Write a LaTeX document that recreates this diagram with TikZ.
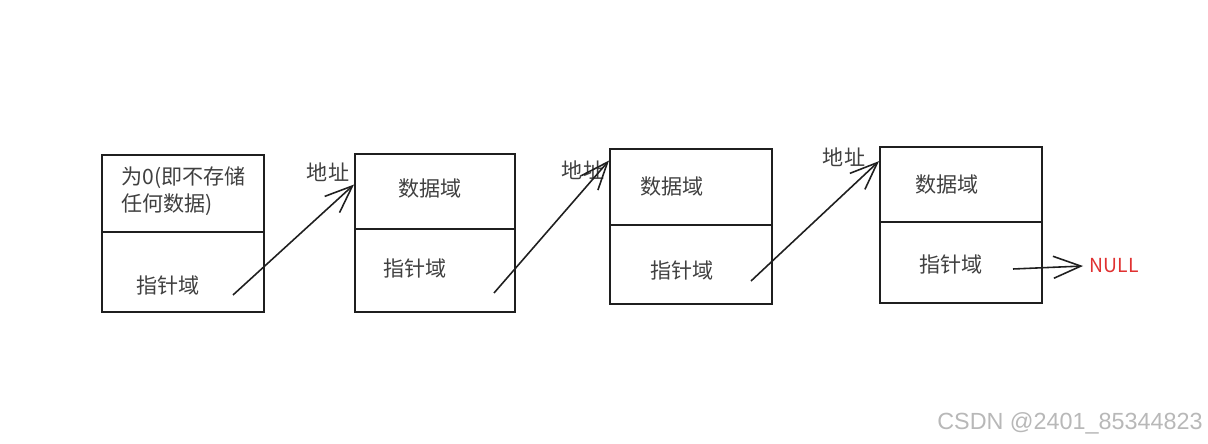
\documentclass[tikz,border=0pt]{standalone}
\usepackage{fontspec}
\setmainfont{Noto Sans CJK SC}
\newfontfamily\wmfont{Liberation Sans}
\usetikzlibrary{arrows.meta}
\definecolor{inkred}{RGB}{224,49,49}

\begin{document}
\begin{tikzpicture}[line width=0.9pt,>={Straight Barb[length=5.5mm,width=4.4mm]},
  cell/.style={draw=black!88, line width=1pt, inner sep=0pt, minimum width=3.24cm, anchor=south west},
  lbl/.style={text=black!75, font=\fontsize{12}{14}\selectfont, inner sep=1pt},
  ptr/.style={->, draw=black!88}]
\useasboundingbox (0,0) rectangle (24.16,8.86);
% ---------- head node ----------
\node[cell, minimum height=1.60cm] (b1) at (2.02,2.60) {};
\node[cell, minimum height=1.54cm] (t1) at (2.02,4.20) {};
\node[lbl, anchor=west] (h1a) at (2.38,5.30) {为0(即不存储};
\node[lbl, anchor=west] (h1b) at (2.38,4.76) {任何数据)};
\node[lbl] (p1) at (3.36,3.16) {指针域};
\coordinate (s1) at (4.66,2.96);
% ---------- node 2 ----------
\node[cell, minimum width=3.20cm, minimum height=1.66cm] (b2) at (7.08,2.60) {};
\node[cell, minimum width=3.20cm, minimum height=1.50cm] (t2) at (7.08,4.26) {};
\node[lbl] (d2) at (8.60,5.08) {数据域};
\node[lbl] (p2) at (8.30,3.50) {指针域};
\node[lbl] (a2) at (6.56,5.42) {地址};
\coordinate (s2) at (9.88,3.00);
% ---------- node 3 ----------
\node[cell, minimum height=1.58cm] (b3) at (12.18,2.76) {};
\node[cell, minimum height=1.52cm] (t3) at (12.18,4.34) {};
\node[lbl] (d3) at (13.44,5.12) {数据域};
\node[lbl] (p3) at (13.64,3.46) {指针域};
\node[lbl] (a3) at (11.66,5.46) {地址};
\coordinate (s3) at (15.02,3.24);
% ---------- node 4 ----------
\node[cell, minimum height=1.62cm] (b4) at (17.58,2.78) {};
\node[cell, minimum height=1.50cm] (t4) at (17.58,4.40) {};
\node[lbl] (d4) at (18.94,5.16) {数据域};
\node[lbl] (p4) at (19.02,3.58) {指针域};
\node[lbl] (a4) at (16.88,5.72) {地址};
\coordinate (s4) at (20.26,3.48);
\node[anchor=west, text=inkred, font=\fontsize{11}{13}\selectfont] (null) at (21.66,3.54) {NULL};
% ---------- links ----------
\draw[ptr] (s1) -- (t2.175);
\draw[ptr] (s2) -- (t3.162);
\draw[ptr] (s3) -- (t4.164);
\draw[ptr] (s4) -- (null.west);
% watermark
\node[text=black!28, font=\wmfont\fontsize{13.3}{15}\selectfont] (wm) at (21.40,0.40) {CSDN @2401\_85344823};
\end{tikzpicture}
\end{document}
